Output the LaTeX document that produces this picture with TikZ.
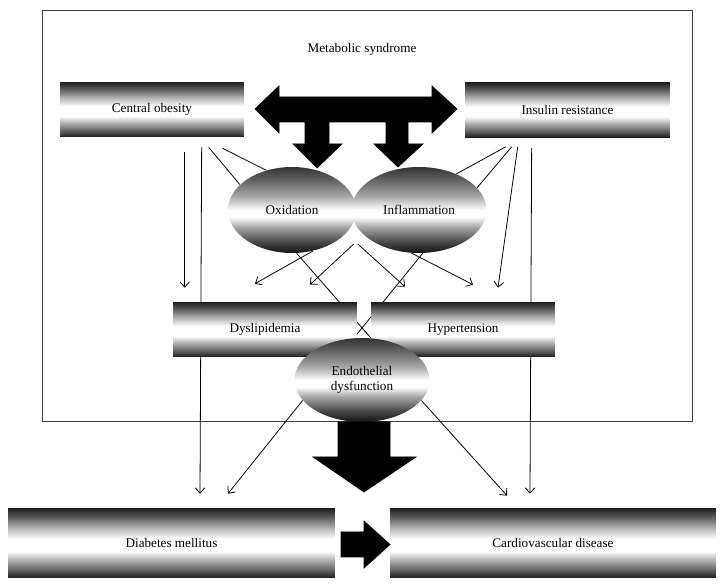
\documentclass[tikz,border=0pt]{standalone}
\usepackage{fontspec}
\setmainfont{Liberation Serif}
\usetikzlibrary{calc,arrows.meta,shapes.geometric}
\pgfdeclarelayer{bg}
\pgfsetlayers{bg,main}
\pgfdeclareverticalshading{barshade}{100bp}{color(0bp)=(black!90); color(25bp)=(black!90); color(30bp)=(black!65); color(38bp)=(black!30); color(44bp)=(white); color(53bp)=(white); color(62bp)=(black!35); color(70bp)=(black!70); color(75bp)=(black!88); color(100bp)=(black!88)}
\pgfdeclareverticalshading{ovalshade}{100bp}{color(0bp)=(black!92); color(25bp)=(black!92); color(32bp)=(black!70); color(40bp)=(black!35); color(46bp)=(white); color(50bp)=(white); color(58bp)=(black!35); color(67bp)=(black!60); color(75bp)=(black!80); color(100bp)=(black!80)}
\tikzset{
	bar/.style={rectangle, shading=barshade, inner sep=0pt, minimum height=1.1cm, font=\fontsize{7.5}{8.5}\selectfont},
	oval/.style={ellipse, shading=ovalshade, inner sep=0pt, minimum height=1.72cm, font=\fontsize{7.5}{8.5}\selectfont},
	link/.style={line width=0.45pt},
	linkarrow/.style={link, -{Straight Barb[length=3pt,width=5.5pt]}},
	framebox/.style={line width=0.5pt, draw=black!75}
}

\begin{document}
\begin{tikzpicture}[x=0.02cm, y=-0.02cm]
			%%%%% START %%%%%
			\useasboundingbox (0,0) rectangle (725,588);
			
			\node[font=\fontsize{7.5}{8.5}\selectfont] (title) at (362,49) {Metabolic syndrome};
			
			\node[bar, minimum width=3.68cm] (obesity) at (152,109.5) {Central obesity};
			\node[bar, minimum width=4.1cm] (insulin) at (567.5,110) {Insulin resistance};
			
			\draw[fill=black] (255,109) -- (279,86) -- (279,97) -- (432,97) -- (432,86) -- (457,109) -- (432,133) -- (432,122)
				-- (408,122) -- (408,144) -- (423,144) -- (398,167) -- (374,144) -- (386,144) -- (386,122)
				-- (329,122) -- (329,144) -- (342,144) -- (317,168) -- (293,144) -- (305,144) -- (305,122)
				-- (279,122) -- (279,133) -- cycle;
			
			\node[oval, minimum width=2.56cm] (oxid) at (292,210) {Oxidation};
			\node[oval, minimum width=2.7cm] (inflam) at (419,210) {Inflammation};
			\coordinate (waist) at ($(oxid.east)!0.5!(inflam.west)+(0,34)$);
			
			\node[bar, minimum width=3.68cm] (dys) at (265,329.5) {Dyslipidemia};
			\node[bar, minimum width=3.68cm] (hyper) at (463,329.5) {Hypertension};
			\node[oval, minimum width=2.7cm, minimum height=1.68cm, align=center] (endo) at (362,380) {Endothelial\\dysfunction};
			
			\draw[fill=black] (338,422) -- (390,422) -- (390,457) -- (416,457) -- (364,492) -- (313,457) -- (338,457) -- cycle;
			
			\node[bar, minimum width=6.54cm, minimum height=1.4cm] (diab) at (171.5,543) {Diabetes mellitus};
			\node[bar, minimum width=6.52cm, minimum height=1.4cm] (cardio) at (553,543) {Cardiovascular disease};
			
			\draw[fill=black] (341,532) -- (364,532) -- (364,521) -- (390,544.5) -- (364,568) -- (364,557) -- (341,557) -- cycle;
			
			\begin{pgfonlayer}{bg}
			\draw[framebox] (42,10) rectangle (692,421);
			
			\draw[linkarrow] ($(obesity.south west)+(125,15)$) -- ($(dys.north west)+(12,-14)$);
			\draw[linkarrow] ($(obesity.south west)+(142,10)$) -- ($(diab.north)+(28.5,-14)$);
			\draw[link] ($(obesity.south west)+(149,10)$) -- (oxid.154);
			\draw[link] ($(obesity.south west)+(163,11)$) -- (oxid.123);
			
			\draw[link] ($(insulin.south west)+(41,9)$) -- (inflam.44);
			\draw[link] ($(insulin.south west)+(47,9)$) -- (inflam.21);
			\draw[linkarrow] ($(insulin.south west)+(53,9)$) -- ($(hyper.north)+(35,-14)$);
			\draw[linkarrow] ($(insulin.south west)+(67,10)$) -- ($(cardio.north)+(-23,-14)$);
			
			\draw[linkarrow] (oxid.-63) -- ($(dys.north)+(-10,-18)$);
			\draw[linkarrow] (waist) -- ($(dys.north)+(45,-17)$);
			\draw[linkarrow] ($(waist)+(4,0)$) -- ($(hyper.north)+(-58,-15)$);
			\draw[linkarrow] (inflam.-100) -- ($(hyper.north)+(10,-17)$);
			\draw[link] (oxid.-84) -- (endo.78);
			\draw[link] (inflam.-85) -- (endo.101);
			
			\draw[linkarrow] (endo.199) -- ($(diab.north)+(56.5,-14)$);
			\draw[linkarrow] (endo.-19) -- ($(cardio.north)+(-46,-12)$);
			\end{pgfonlayer}
			
			%%%%% END %%%%%
		\end{tikzpicture}
\end{document}
